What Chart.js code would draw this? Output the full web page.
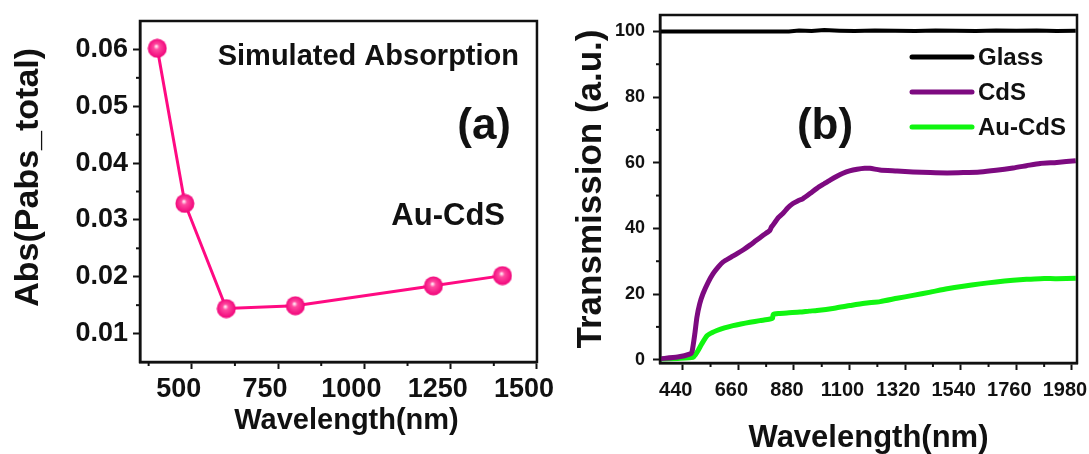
<!DOCTYPE html>
<html>
<head>
<meta charset="utf-8">
<script src="https://cdn.jsdelivr.net/npm/chart.js@4.4.1/dist/chart.umd.min.js"></script>
<style>
  html, body { margin: 0; padding: 0; background: #fff; overflow: hidden; }
  #wrap { position: relative; width: 1089px; height: 454px; overflow: hidden; }
  #chartA { position: absolute; left: 0; top: 0; }
  #chartB { position: absolute; left: 545px; top: 0; }
</style>
</head>
<body>
<div id="wrap">
  <canvas id="chartA" width="571" height="454"></canvas>
  <canvas id="chartB" width="560" height="454"></canvas>
</div>
<script>
// (a) simulated absorption
const absWavelength = [400, 480, 600, 800, 1200, 1400];
const absValues = [0.0602, 0.0329, 0.0144, 0.0149, 0.0184, 0.0202];
const absXTicks = [500, 750, 1000, 1250, 1500];
const absXMinor = [375, 625, 875, 1125, 1375];
const absYTicks = [0.01, 0.02, 0.03, 0.04, 0.05, 0.06];
const absYMinor = [0.015, 0.025, 0.035, 0.045, 0.055];

// (b) transmission
const glassWl = [350, 500, 700, 860, 900, 950, 1000, 1060, 1120, 1200, 1280, 1360, 1440, 1520, 1600, 1680, 1760, 1840, 1920, 1995];
const glassT = [100, 100, 100, 100, 100.3, 100.1, 100.4, 100.2, 100.1, 100.3, 100.2, 100.1, 100.3, 100.2, 100.1, 100.3, 100.2, 100.3, 100.1, 100.2];

const cdsWl = [350, 420, 470, 477, 488, 496, 507, 520, 540, 560, 580, 600, 630, 655, 680, 706, 730, 758, 785, 790, 797, 815, 837, 856, 876, 896, 916, 945, 971, 1000, 1023, 1050, 1074, 1100, 1130, 1160, 1181, 1220, 1288, 1351, 1420, 1486, 1550, 1616, 1680, 1747, 1800, 1854, 1920, 1995];
const cdsT = [0.3, 0.8, 1.8, 2.5, 8, 12.9, 17, 20.1, 23.5, 26.2, 28.2, 29.8, 31.2, 32.3, 33.5, 34.9, 36.3, 37.9, 39.4, 40.3, 41.0, 43, 44.6, 46.3, 47.6, 48.4, 49.1, 50.7, 52.2, 53.6, 54.7, 55.9, 56.8, 57.5, 58.0, 58.3, 58.3, 57.8, 57.5, 57.2, 57.0, 56.9, 57.0, 57.2, 57.7, 58.4, 59.1, 59.8, 60.1, 60.6];

const aucdsWl = [350, 420, 481, 490, 500, 515, 536, 555, 575, 605, 639, 670, 706, 745, 785, 795, 798, 820, 860, 904, 940, 971, 1040, 1102, 1160, 1221, 1288, 1351, 1420, 1486, 1550, 1616, 1680, 1747, 1800, 1854, 1920, 1995];
const aucdsT = [0.2, 0.4, 0.7, 1.5, 2.7, 4.8, 7.3, 8.2, 8.9, 9.7, 10.4, 10.9, 11.4, 11.9, 12.4, 12.6, 13.8, 14.1, 14.3, 14.5, 14.8, 15.0, 15.7, 16.5, 17.2, 17.7, 18.7, 19.6, 20.6, 21.6, 22.4, 23.1, 23.7, 24.2, 24.5, 24.7, 24.7, 24.8];

const transXTicks = [440, 660, 880, 1100, 1320, 1540, 1760, 1980];
const transXMinor = [550, 770, 990, 1210, 1430, 1650, 1870];
const transYTicks = [0, 20, 40, 60, 80, 100];
const transYMinor = [10, 30, 50, 70, 90];

Chart.defaults.font.family = "'Liberation Sans', Arial, sans-serif";
Chart.defaults.font.weight = 'bold';
Chart.defaults.color = '#111';

function toPoints(xs, ys) {
    return xs.map((x, i) => ({ x: x, y: ys[i] }));
}

// box around plot + short minor ticks
function framePlugin(xMinor, yMinor) {
    return {
        id: 'frame',
        afterDraw(chart) {
            const ctx = chart.ctx;
            const a = chart.chartArea;
            const xs = chart.scales.x;
            const ys = chart.scales.y;
            ctx.save();
            ctx.strokeStyle = '#111';
            ctx.lineWidth = 2;
            xMinor.forEach(v => {
                const px = xs.getPixelForValue(v);
                ctx.beginPath();
                ctx.moveTo(px, a.bottom);
                ctx.lineTo(px, a.bottom + 4);
                ctx.stroke();
            });
            yMinor.forEach(v => {
                const py = ys.getPixelForValue(v);
                ctx.beginPath();
                ctx.moveTo(a.left, py);
                ctx.lineTo(a.left - 4, py);
                ctx.stroke();
            });
            ctx.lineWidth = 2.5;
            ctx.strokeRect(a.left, a.top, a.right - a.left, a.bottom - a.top);
            ctx.restore();
        }
    };
}

function textPlugin(items) {
    return {
        id: 'labels',
        afterDraw(chart) {
            const ctx = chart.ctx;
            const a = chart.chartArea;
            ctx.save();
            ctx.fillStyle = '#111';
            ctx.textBaseline = 'alphabetic';
            items.forEach(t => {
                ctx.font = 'bold ' + t.size + "px 'Liberation Sans', Arial, sans-serif";
                ctx.textAlign = t.align;
                ctx.fillText(t.text, a.left + t.dx, a.top + t.dy);
            });
            ctx.restore();
        }
    };
}

// legend lines drawn from the datasets
const legendPlugin = {
    id: 'innerLegend',
    afterDraw(chart) {
        const ctx = chart.ctx;
        const a = chart.chartArea;
        ctx.save();
        chart.data.datasets.forEach((ds, i) => {
            const y = a.top + 42 + i * 35;
            const x0 = a.right - 165;
            ctx.strokeStyle = ds.borderColor;
            ctx.lineWidth = 5;
            ctx.lineCap = 'round';
            ctx.beginPath();
            ctx.moveTo(x0, y);
            ctx.lineTo(x0 + 60, y);
            ctx.stroke();
            ctx.fillStyle = '#111';
            ctx.font = "bold 24px 'Liberation Sans', Arial, sans-serif";
            ctx.textAlign = 'left';
            ctx.textBaseline = 'middle';
            ctx.fillText(ds.label, x0 + 66, y + 1);
        });
        ctx.restore();
    }
};

// shaded ball marker
const ball = document.createElement('canvas');
ball.width = 20;
ball.height = 20;
const bctx = ball.getContext('2d');
const grad = bctx.createRadialGradient(9, 8, 0.5, 10, 10, 10);
grad.addColorStop(0, '#ffe8f3');
grad.addColorStop(0.25, '#ff4aa0');
grad.addColorStop(1, '#f00078');
bctx.fillStyle = grad;
bctx.beginPath();
bctx.arc(10, 10, 9.5, 0, Math.PI * 2);
bctx.fill();

const chartA = new Chart(document.getElementById('chartA'), {
    type: 'line',
    data: {
        datasets: [{
            label: 'Au-CdS',
            data: toPoints(absWavelength, absValues),
            borderColor: '#ff0a82',
            backgroundColor: '#ff0a82',
            borderWidth: 3,
            pointStyle: ball,
            tension: 0
        }]
    },
    options: {
        responsive: false,
        animation: false,
        layout: { padding: { left: 0, top: 21, right: 34, bottom: 0 } },
        plugins: { legend: { display: false }, tooltip: { enabled: false } },
        scales: {
            x: {
                type: 'linear',
                min: 350,
                max: 1500,
                afterBuildTicks: s => { s.ticks = absXTicks.map(v => ({ value: v })); },
                afterFit: s => { s.height = 92; },
                grid: { drawOnChartArea: false, tickLength: 7, tickWidth: 2, tickColor: '#111' },
                border: { color: '#111', width: 2.5 },
                ticks: { font: { size: 27 }, padding: 4, labelOffset: -13, maxRotation: 0, callback: v => String(v) },
                // leading spaces nudge the title right like the original
                title: { display: true, text: '  Wavelength(nm)', font: { size: 29 }, padding: { top: 0, bottom: 16 } }
            },
            y: {
                min: 0.005,
                max: 0.065,
                afterBuildTicks: s => { s.ticks = absYTicks.map(v => ({ value: v })); },
                afterFit: s => { s.width = 140; s.paddingTop = 0; s.paddingBottom = 0; },
                grid: { drawOnChartArea: false, tickLength: 7, tickWidth: 2, tickColor: '#111' },
                border: { color: '#111', width: 2.5 },
                ticks: { font: { size: 27 }, padding: 5, callback: v => v.toFixed(2) },
                // leading spaces lift the rotated title a little
                title: { display: true, text: '   Abs(Pabs_total)', font: { size: 34 }, padding: { top: 8, bottom: 0 } }
            }
        }
    },
    plugins: [
        framePlugin(absXMinor, absYMinor),
        textPlugin([
            { text: 'Simulated Absorption', size: 29, align: 'right', dx: 379, dy: 44 },
            { text: '(a)', size: 44, align: 'right', dx: 371, dy: 118 },
            { text: 'Au-CdS', size: 31, align: 'right', dx: 365, dy: 204 }
        ])
    ]
});

const chartB = new Chart(document.getElementById('chartB'), {
    type: 'line',
    data: {
        datasets: [
            {
                label: 'Glass',
                data: toPoints(glassWl, glassT),
                borderColor: '#000000',
                borderWidth: 4,
                pointRadius: 0,
                tension: 0
            },
            {
                label: 'CdS',
                data: toPoints(cdsWl, cdsT),
                borderColor: '#7d0a80',
                borderWidth: 5,
                pointRadius: 0,
                tension: 0.2
            },
            {
                label: 'Au-CdS',
                data: toPoints(aucdsWl, aucdsT),
                borderColor: '#10f510',
                borderWidth: 5,
                pointRadius: 0,
                tension: 0.2
            }
        ]
    },
    options: {
        responsive: false,
        animation: false,
        layout: { padding: { left: 0, top: 15, right: 28, bottom: 0 } },
        plugins: { legend: { display: false }, tooltip: { enabled: false } },
        scales: {
            x: {
                type: 'linear',
                min: 350,
                max: 2000,
                afterBuildTicks: s => { s.ticks = transXTicks.map(v => ({ value: v })); },
                afterFit: s => { s.height = 91; },
                grid: { drawOnChartArea: false, tickLength: 7, tickWidth: 2, tickColor: '#111' },
                border: { color: '#111', width: 2.5 },
                ticks: { font: { size: 20 }, padding: 8, labelOffset: -7, maxRotation: 0, callback: v => String(v) },
                title: { display: true, text: 'Wavelength(nm)', font: { size: 31, lineHeight: 1 }, padding: { top: 0, bottom: 0 } }
            },
            y: {
                min: -1,
                max: 105,
                afterBuildTicks: s => { s.ticks = transYTicks.map(v => ({ value: v })); },
                afterFit: s => { s.width = 115; s.paddingTop = 0; s.paddingBottom = 0; },
                grid: { drawOnChartArea: false, tickLength: 7, tickWidth: 2, tickColor: '#111' },
                border: { color: '#111', width: 2.5 },
                ticks: { font: { size: 18 }, padding: 8 },
                title: { display: true, text: 'Transmission (a.u.)', font: { size: 35 }, padding: { top: 25, bottom: 0 } }
            }
        }
    },
    plugins: [
        framePlugin(transXMinor, transYMinor),
        legendPlugin,
        textPlugin([
            { text: '(b)', size: 44, align: 'center', dx: 165, dy: 124 }
        ])
    ]
});
</script>
</body>
</html>
